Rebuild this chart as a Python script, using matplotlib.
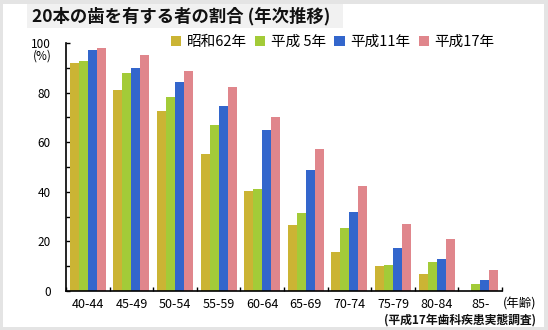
import matplotlib.pyplot as plt
import matplotlib.patches as mpatches
import numpy as np

plt.rcParams['font.family'] = ['Noto Sans CJK JP', 'DejaVu Sans']

# 年齢階級
ages = ['40-44', '45-49', '50-54', '55-59', '60-64', '65-69', '70-74', '75-79', '80-84', '85-']
# 20本以上の歯を有する者の割合(%)
s62 = [92.0, 80.9, 72.6, 55.4, 40.4, 26.8, 15.6, 9.9, 7.0, np.nan]
h5 = [92.9, 88.1, 78.1, 67.1, 41.2, 31.3, 25.5, 10.6, 11.7, 2.8]
h11 = [97.1, 89.8, 84.3, 74.6, 64.9, 48.8, 31.9, 17.5, 13.0, 4.5]
h17 = [98.0, 95.0, 88.9, 82.3, 70.3, 57.1, 42.4, 27.1, 21.1, 8.3]
series = ['昭和62年', '平成 5年', '平成11年', '平成17年']
colors = ['#cbb434', '#a3cb38', '#3366cc', '#e0868c']

W, H = 548, 330
fig = plt.figure(figsize=(W / 100, H / 100), dpi=100)
fig.patch.set_facecolor('#e4e4e4')
# 白い台紙
fig.patches.append(mpatches.Rectangle((3 / W, 3 / H), 541 / W, 323 / H, transform=fig.transFigure,
                                      facecolor='white', edgecolor='none', zorder=-2))
# タイトルの背景
fig.patches.append(mpatches.Rectangle((27 / W, 1 - 28 / H), 316 / W, 24 / H, transform=fig.transFigure,
                                      facecolor='#f1f1f1', edgecolor='none', zorder=-1))
fig.text(32 / W, 1 - 16 / H, '20本の歯を有する者の割合 (年次推移)', fontsize=12.5, fontweight='bold',
         va='center', ha='left', color='#111111')

ax = fig.add_axes([66 / W, 39 / H, 436 / W, 248 / H])
ax.set_facecolor('none')

x = np.arange(len(ages)) + 0.5
w = 0.206
for j, (vals, c) in enumerate(zip([s62, h5, h11, h17], colors)):
    ax.bar(x + (j - 1.5) * w, vals, width=w, color=c, label=series[j], zorder=2)

ax.set_xlim(0, len(ages))
ax.set_ylim(0, 100)
for s in ['top', 'right']:
    ax.spines[s].set_visible(False)
for s in ['left', 'bottom']:
    ax.spines[s].set_linewidth(1.2)
    ax.spines[s].set_color('black')

ax.set_yticks(np.arange(0, 101, 20))
ax.set_yticks(np.arange(10, 100, 20), minor=True)
ax.tick_params(axis='y', which='both', direction='in', length=3, width=1, pad=11, labelsize=8.5)
ax.set_xticks(np.arange(0, len(ages) + 1))
ax.set_xticklabels([])
ax.set_xticks(x, minor=True)
ax.set_xticklabels(ages, minor=True, fontsize=9)
ax.tick_params(axis='x', which='major', direction='in', length=3, width=1)
ax.tick_params(axis='x', which='minor', length=0, pad=5)

fig.text(33 / W, 1 - 56 / H, '(%)', fontsize=8.5, va='center', ha='left')
fig.text(503 / W, 1 - 304 / H, '(年齢)', fontsize=9, va='center', ha='left')
fig.text(536 / W, 1 - 320 / H, '(平成17年歯科疾患実態調査)', fontsize=8.5, fontweight='bold',
         va='center', ha='right', color='#111111')

fig.legend(loc='center left', bbox_to_anchor=(171 / W, 1 - 42 / H), ncol=4, frameon=False,
           fontsize=10.5, handlelength=0.7, handleheight=0.7, handletextpad=0.4,
           columnspacing=0.55, borderpad=0, borderaxespad=0)

fig.savefig('out.png', dpi=100)
